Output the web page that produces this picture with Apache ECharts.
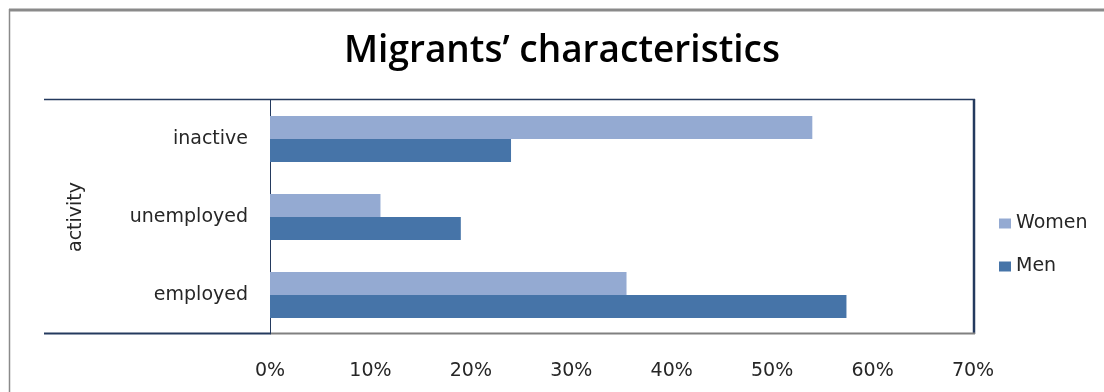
<!DOCTYPE html>
<html>
<head>
<meta charset="utf-8">
<style>
  html, body { margin: 0; padding: 0; background: #ffffff; }
  #chart { width: 1104px; height: 392px; }
</style>
<script src="https://cdn.jsdelivr.net/npm/echarts@6/dist/echarts.min.js"></script>
</head>
<body>
<div id="chart"></div>
<script>
// Share of migrants by activity status, in percent
const categories = ['employed', 'unemployed', 'inactive'];
const women = [35.5, 11, 54];
const men = [57.4, 19, 24];
const seriesNames = ['Women', 'Men'];
const xTicks = [0, 10, 20, 30, 40, 50, 60, 70];

const chart = echarts.init(document.getElementById('chart'), null, { renderer: 'canvas' });

const labelFont = 'DejaVu Sans';
const labelColor = '#262626';
const grid = { left: 270, right: 131, top: 100, bottom: 58 };

chart.setOption({
  animation: false,
  backgroundColor: '#ffffff',
  title: {
    text: 'Migrants\u2019 characteristics',
    left: 339,
    top: 28,
    textStyle: { fontFamily: 'Open Sans', fontWeight: 600, fontSize: 37, color: '#000000' }
  },
  legend: {
    orient: 'vertical',
    left: 994,
    top: 209,
    itemWidth: 12,
    itemHeight: 10,
    itemGap: 24,
    icon: 'rect',
    data: seriesNames,
    textStyle: { fontFamily: labelFont, fontSize: 19, color: labelColor }
  },
  grid: grid,
  xAxis: {
    type: 'value',
    min: xTicks[0],
    max: xTicks[xTicks.length - 1],
    interval: 10,
    axisLine: { show: false },
    axisTick: { show: false },
    splitLine: { show: false },
    axisLabel: {
      margin: 28,
      formatter: '{value}%',
      fontFamily: labelFont,
      fontSize: 19,
      color: labelColor
    }
  },
  yAxis: {
    type: 'category',
    data: categories,
    name: 'activity',
    nameLocation: 'middle',
    nameRotate: 90,
    nameGap: 184,
    nameTextStyle: { fontFamily: labelFont, fontSize: 19, color: labelColor },
    axisLine: { show: true, lineStyle: { color: '#243a5e', width: 1 } },
    axisTick: { show: false },
    axisLabel: { margin: 22, fontFamily: labelFont, fontSize: 19, color: labelColor }
  },
  series: [
    {
      name: 'Women',
      type: 'bar',
      data: women,
      barGap: '0%',
      barCategoryGap: '41%',
      itemStyle: { color: '#94aad2' }
    },
    {
      name: 'Men',
      type: 'bar',
      data: men,
      barGap: '0%',
      barCategoryGap: '41%',
      itemStyle: { color: '#4674a8' }
    }
  ],
  graphic: [
    // outer frame
    { type: 'line', shape: { x1: 9, y1: 10, x2: 1104, y2: 10 }, style: { stroke: '#8a8a8a', lineWidth: 3 } },
    { type: 'line', shape: { x1: 9.5, y1: 9, x2: 9.5, y2: 392 }, style: { stroke: '#8a8a8a', lineWidth: 1.5 } },
    // plot frame
    { type: 'line', shape: { x1: 44, y1: 99.5, x2: 975, y2: 99.5 }, style: { stroke: '#243a5e', lineWidth: 1.5 } },
    { type: 'line', shape: { x1: 974, y1: 99, x2: 974, y2: 334 }, style: { stroke: '#243a5e', lineWidth: 2.5 } },
    { type: 'line', shape: { x1: 44, y1: 333.5, x2: 270, y2: 333.5 }, style: { stroke: '#243a5e', lineWidth: 2 } },
    { type: 'line', shape: { x1: 270, y1: 333.5, x2: 975, y2: 333.5 }, style: { stroke: '#808080', lineWidth: 2 } }
  ]
});
</script>
</body>
</html>
